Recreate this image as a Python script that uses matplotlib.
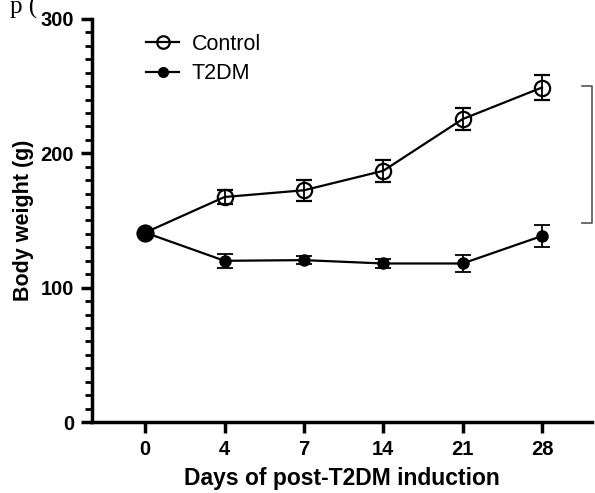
import matplotlib
matplotlib.use('Agg')
import matplotlib.pyplot as plt
from matplotlib.lines import Line2D
from matplotlib.ticker import MultipleLocator
import numpy as np

days = ['0', '4', '7', '14', '21', '28']
control = [141, 167.5, 172.5, 187, 225.5, 249]
control_err = [0, 5, 8, 8, 8, 9]
t2dm = [141, 120, 120.5, 118, 118, 138.5]
t2dm_err = [0, 5, 3, 3, 6, 8]

plt.rcParams['font.family'] = ['Liberation Sans', 'DejaVu Sans']

fig = plt.figure(figsize=(5.95, 4.93), dpi=100)
ax = fig.add_axes([92/595, 71/493, 500/595, 403/493])
x = np.arange(len(days))

ax.errorbar(x, t2dm, yerr=t2dm_err, color='black', marker='o', ms=8,
            mfc='black', mec='black', lw=1.6, capsize=5.5, capthick=1.3,
            elinewidth=1.3, zorder=3)
ax.errorbar(x, control, yerr=control_err, color='black', marker='o', ms=11,
            mfc='none', mec='black', mew=1.6, lw=1.6, capsize=5.5, capthick=1.3,
            elinewidth=1.3, zorder=4)
# day 0 shared point drawn larger
ax.plot(x[0], t2dm[0], 'o', color='black', ms=12, zorder=5)

ax.set_xlim(-0.67, 5.63)
ax.set_ylim(0, 300)
ax.set_xticks(x)
ax.set_xticklabels(days)
ax.yaxis.set_major_locator(MultipleLocator(100))
ax.yaxis.set_minor_locator(MultipleLocator(10))

for s in ['top', 'right']:
    ax.spines[s].set_visible(False)
for s in ['left', 'bottom']:
    ax.spines[s].set_linewidth(2.5)
ax.tick_params(axis='both', which='major', length=8, width=2.5, labelsize=14.5, pad=5)
ax.tick_params(axis='y', which='minor', length=5, width=2)
for lbl in ax.get_xticklabels() + ax.get_yticklabels():
    lbl.set_fontweight('bold')

ax.set_ylabel('Body weight (g)', fontsize=15.5, fontweight='bold', labelpad=5)
ax.set_xlabel('Days of post-T2DM induction', fontsize=16.5, fontweight='bold', labelpad=6)

handles = [Line2D([], [], color='black', lw=1.6, marker='o', ms=9, mfc='none', mew=1.6),
           Line2D([], [], color='black', lw=1.6, marker='o', ms=7, mfc='black')]
ax.legend(handles, ['Control', 'T2DM'], loc='upper left', bbox_to_anchor=(0.07, 1.012),
          frameon=False, fontsize=15.5, handlelength=1.5, handletextpad=0.6,
          labelspacing=0.4)

# significance bracket at the right edge
fig.lines.append(Line2D([582/595, 592/595, 592/595, 582/595],
                        [1 - 86/493, 1 - 86/493, 1 - 223/493, 1 - 223/493],
                        transform=fig.transFigure, color='#555555', lw=1.2))

fig.text(10/595, 1 + 4/493, 'p (', fontsize=18, family='Liberation Serif', va='top')

fig.savefig('out.png', dpi=100, facecolor='white')
